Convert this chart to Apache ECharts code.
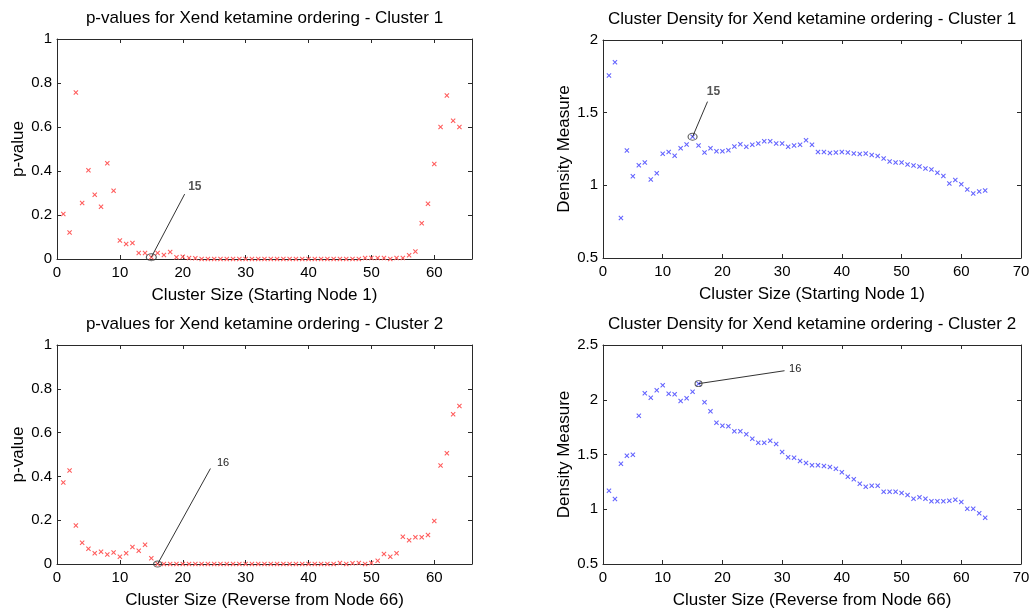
<!DOCTYPE html>
<html>
<head>
<meta charset="utf-8">
<script src="https://cdn.jsdelivr.net/npm/echarts@6/dist/echarts.min.js"></script>
<style>html,body{margin:0;padding:0;background:#fff;}#c{width:1036px;height:612px;}</style>
</head>
<body>
<div id="c"></div>
<script>
// ---- data ----
const clusterSizes = Array.from({length: 64}, (_, i) => i + 1);

const pvals1 = [0.205,0.12,0.757,0.255,0.403,0.292,0.237,0.435,0.31,0.084,
  0.068,0.073,0.027,0.027,0.008,0.027,0.018,0.032,0.008,0.01,
  0.004,0.003,0,0,0,0,0,0,0,0,
  0,0,0,0,0,0,0,0,0,0,
  0,0,0,0,0,0,0,0,0.004,0.004,
  0.005,0.004,0,0.005,0.004,0.017,0.034,0.163,0.251,0.432,
  0.60,0.743,0.628,0.60];

const density1 = [1.755,1.847,0.775,1.24,1.063,1.139,1.157,1.040,1.084,1.217,
  1.230,1.203,1.256,1.281,1.334,1.274,1.226,1.256,1.235,1.235,
  1.242,1.267,1.283,1.265,1.279,1.288,1.304,1.304,1.288,1.288,
  1.265,1.274,1.279,1.311,1.279,1.230,1.230,1.222,1.226,1.230,
  1.226,1.219,1.215,1.219,1.208,1.201,1.185,1.164,1.157,1.157,
  1.144,1.137,1.130,1.116,1.109,1.086,1.065,1.013,1.036,1.008,
  0.972,0.944,0.958,0.965];

const pvals2 = [0.372,0.427,0.176,0.097,0.070,0.049,0.056,0.043,0.053,0.033,
  0.049,0.078,0.061,0.088,0.026,0,0,0,0,0,
  0,0,0,0,0,0,0,0,0,0,
  0,0,0,0,0,0,0,0,0,0,
  0,0,0,0,0.004,0,0.003,0.004,0,0.005,
  0.015,0.046,0.033,0.049,0.125,0.109,0.122,0.122,0.132,0.196,
  0.45,0.506,0.684,0.722];

const density2 = [1.169,1.094,1.416,1.489,1.498,1.854,2.059,2.019,2.086,2.132,
  2.055,2.05,1.989,2.013,2.074,2.147,1.977,1.894,1.790,1.763,
  1.757,1.712,1.712,1.684,1.644,1.608,1.608,1.626,1.596,1.523,
  1.474,1.471,1.441,1.422,1.401,1.401,1.395,1.386,1.371,1.337,
  1.297,1.273,1.233,1.206,1.215,1.215,1.160,1.160,1.160,1.148,
  1.130,1.096,1.109,1.096,1.073,1.073,1.073,1.078,1.087,1.066,
  1.005,1.005,0.963,0.923];

const titles = [
  'p-values for Xend ketamine ordering - Cluster 1',
  'Cluster Density for Xend ketamine ordering - Cluster 1',
  'p-values for Xend ketamine ordering - Cluster 2',
  'Cluster Density for Xend ketamine ordering - Cluster 2'
];
const xLabels = [
  'Cluster Size (Starting Node 1)',
  'Cluster Size (Starting Node 1)',
  'Cluster Size (Reverse from Node 66)',
  'Cluster Size (Reverse from Node 66)'
];
const yLabels = ['p-value', 'Density Measure', 'p-value', 'Density Measure'];

// axis ranges [min, max, interval]
const xRanges = [[0, 66, 10], [0, 70, 10], [0, 66, 10], [0, 70, 10]];
const yRanges = [[0, 1, 0.2], [0.5, 2, 0.5], [0, 1, 0.2], [0.5, 2.5, 0.5]];

// annotations: highlighted cluster size, leader line end [x, y], label
const annotSizes = [15, 15, 16, 16];
const annotLineEnds = [[20.3, 0.295], [17.5, 1.576], [24.4, 0.436], [30.4, 2.265]];
const annotLabels = ['15', '15', '16', '16'];

// ---- chart ----
const seriesData = [pvals1, density1, pvals2, density2];
const colors = ['#ff5c5c', '#6464ff', '#ff5c5c', '#6464ff'];
const grids = [
  {left: 57, top: 39, width: 415, height: 220},
  {left: 603, top: 40, width: 418, height: 218},
  {left: 57, top: 345, width: 415, height: 219},
  {left: 603, top: 345, width: 418, height: 219}
];
const circleSizes = [[10, 7], [9, 7], [8, 6], [7, 6]];
const labelStyles = [
  {position: 'right', distance: 3, offset: [0, -7], fontWeight: 'bold', fontSize: 12, color: '#555'},
  {position: 'top', distance: 3, offset: [6, 0], fontWeight: 'bold', fontSize: 12, color: '#555'},
  {position: 'right', distance: 6, offset: [0, -6], fontWeight: 'normal', fontSize: 11, color: '#222'},
  {position: 'right', distance: 4, offset: [0, -2], fontWeight: 'normal', fontSize: 11, color: '#222'}
];

const FONT = 'Liberation Sans, Arial, Helvetica, sans-serif';
const AX = '#2a2a2a';
const xMark = 'path://M0,1.5L1.5,0L5,3.5L8.5,0L10,1.5L6.5,5L10,8.5L8.5,10L5,6.5L1.5,10L0,8.5L3.5,5Z';

function fmtTick(v) {
  return String(Math.round(v * 100) / 100);
}

const xAxes = [], yAxes = [], series = [];
for (let i = 0; i < 4; i++) {
  const [xmin, xmax, xint] = xRanges[i];
  const [ymin, ymax, yint] = yRanges[i];
  const common = {
    type: 'value', gridIndex: i, splitLine: {show: false},
    axisLine: {show: true, onZero: false, lineStyle: {color: AX, width: 1}},
    axisTick: {show: true, inside: true, length: 4, lineStyle: {color: AX}}
  };
  xAxes.push(Object.assign({}, common, {
    position: 'bottom', min: xmin, max: xmax, interval: xint,
    name: xLabels[i], nameLocation: 'middle', nameGap: 28,
    nameTextStyle: {fontFamily: FONT, fontSize: 17, color: '#000'},
    axisLabel: {fontFamily: FONT, fontSize: 15, color: '#000', margin: 6,
      formatter: v => (v % xint === 0 ? fmtTick(v) : '')}
  }));
  xAxes.push(Object.assign({}, common, {
    position: 'top', min: xmin, max: xmax, interval: xint,
    name: titles[i], nameLocation: 'middle', nameGap: 12,
    nameTextStyle: {fontFamily: FONT, fontSize: 17, color: '#000'},
    axisLabel: {show: false}
  }));
  yAxes.push(Object.assign({}, common, {
    position: 'left', min: ymin, max: ymax, interval: yint,
    name: yLabels[i], nameLocation: 'middle', nameGap: 27,
    nameTextStyle: {fontFamily: FONT, fontSize: 17, color: '#000'},
    axisLabel: {fontFamily: FONT, fontSize: 15, color: '#000', margin: 5,
      formatter: v => fmtTick(v)}
  }));
  yAxes.push(Object.assign({}, common, {
    position: 'right', min: ymin, max: ymax, interval: yint,
    axisLabel: {show: false}
  }));

  const xi = 2 * i, yi = 2 * i;
  const pts = clusterSizes.map((s, k) => [s, seriesData[i][k]]);
  series.push({
    type: 'scatter', xAxisIndex: xi, yAxisIndex: yi, data: pts,
    symbol: xMark, symbolSize: 5, silent: true,
    itemStyle: {color: colors[i], opacity: 1}
  });
  const a = annotSizes[i];
  const aPt = [a, seriesData[i][a - 1]];
  series.push({
    type: 'scatter', xAxisIndex: xi, yAxisIndex: yi, data: [aPt],
    symbol: 'circle', symbolSize: circleSizes[i], silent: true, z: 3,
    itemStyle: {color: 'rgba(0,0,0,0)', borderColor: '#333', borderWidth: 1}
  });
  const ls = labelStyles[i];
  series.push({
    type: 'line', xAxisIndex: xi, yAxisIndex: yi, silent: true, z: 3,
    symbol: 'none', lineStyle: {color: '#333', width: 1},
    data: [
      {value: aPt},
      {value: annotLineEnds[i], symbol: 'circle', symbolSize: 1,
       itemStyle: {color: 'rgba(0,0,0,0)'},
       label: {show: true, formatter: annotLabels[i], position: ls.position,
         distance: ls.distance, offset: ls.offset, fontFamily: FONT,
         fontWeight: ls.fontWeight, fontSize: ls.fontSize, color: ls.color}}
    ]
  });
}

const chart = echarts.init(document.getElementById('c'), null, {renderer: 'canvas'});
chart.setOption({
  animation: false,
  backgroundColor: '#fff',
  grid: grids,
  xAxis: xAxes,
  yAxis: yAxes,
  series: series
});
</script>
</body>
</html>
